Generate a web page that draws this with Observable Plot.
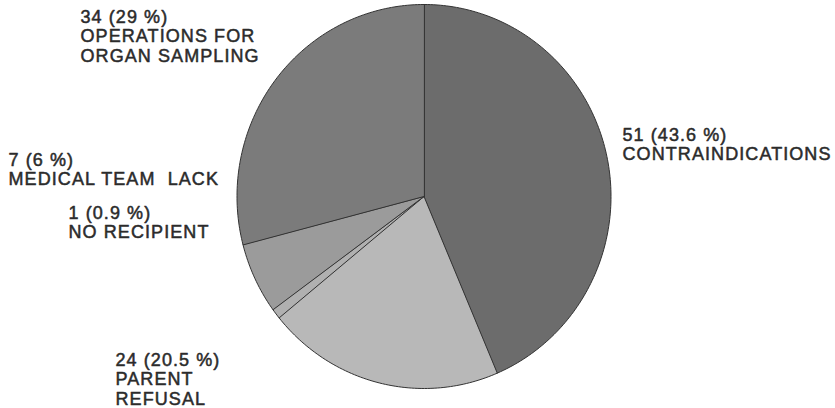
<!DOCTYPE html>
<html>
<head>
<meta charset="utf-8">
<script src="https://cdn.jsdelivr.net/npm/d3@7"></script>
<script src="https://cdn.jsdelivr.net/npm/@observablehq/plot@0.6"></script>
<style>
  html, body { margin: 0; padding: 0; background: #fff; }
  #chart svg { display: block; }
  #chart text { letter-spacing: 0.06em; }
</style>
</head>
<body>
<div id="chart"></div>
<script>
// Reasons for non-retrieval, clockwise from 12 o'clock
const categories = [
  "CONTRAINDICATIONS",
  "PARENT\nREFUSAL",
  "NO RECIPIENT",
  "MEDICAL TEAM  LACK",
  "OPERATIONS FOR\nORGAN SAMPLING"
];
const counts = [51, 24, 1, 7, 34];
const percents = ["43.6", "20.5", "0.9", "6", "29"];
const shades = ["#6c6c6c", "#b8b8b8", "#b0b0b0", "#9b9b9b", "#7b7b7b"];

// Label placement (left edge / cap top, in pixels)
const labelLayout = [
  {dx: 622, dy: 126},
  {dx: 115, dy: 351},
  {dx: 68, dy: 204},
  {dx: 8, dy: 151},
  {dx: 80, dy: 8}
];

// Build each slice as a closed polygon on the unit circle
const total = d3.sum(counts);
const slices = [];
let acc = 0;
counts.forEach((v, i) => {
  const a0 = (acc / total) * 2 * Math.PI;
  acc += v;
  const a1 = (acc / total) * 2 * Math.PI;
  const steps = Math.max(2, Math.ceil((a1 - a0) / (Math.PI / 180)));
  slices.push({key: categories[i], x: 0, y: 0});
  for (let k = 0; k <= steps; k++) {
    const a = a0 + (a1 - a0) * k / steps;
    slices.push({key: categories[i], x: Math.sin(a), y: Math.cos(a)});
  }
});

const labelTexts = categories.map((c, i) => `${counts[i]} (${percents[i]} %)\n${c}`);

const textMarks = labelTexts.map((t, i) =>
  Plot.text([t], {
    text: d => d,
    frameAnchor: "top-left",
    textAnchor: "start",
    lineAnchor: "top",
    lineHeight: 1.1,
    dx: labelLayout[i].dx,
    dy: labelLayout[i].dy,
    fontSize: 18,
    fill: "#2b2b2b",
    stroke: "#2b2b2b",
    strokeWidth: 0.5
  })
);

const chart = Plot.plot({
  width: 835,
  height: 408,
  margin: 0,
  style: {fontFamily: "'Liberation Sans', Arial, Helvetica, sans-serif", background: "#fff"},
  x: {domain: [-1, 1], range: [236.5, 610.5], axis: null},
  y: {domain: [-1, 1], range: [388, 4], axis: null},
  color: {domain: categories, range: shades},
  marks: [
    Plot.line(slices, {
      x: "x",
      y: "y",
      z: "key",
      fill: "key",
      stroke: "#333",
      strokeWidth: 1,
      curve: "linear-closed"
    }),
    ...textMarks
  ]
});

document.getElementById("chart").appendChild(chart);
</script>
</body>
</html>
